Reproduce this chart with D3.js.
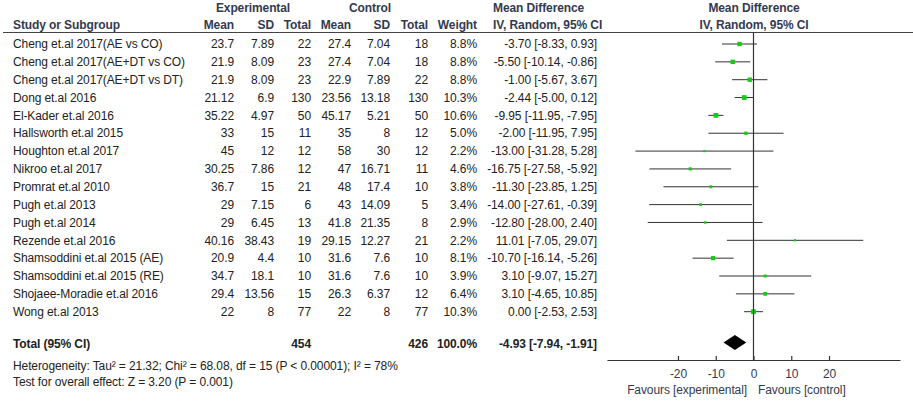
<!DOCTYPE html>
<html>
<head>
<meta charset="utf-8">
<script src="https://cdn.jsdelivr.net/npm/d3@7"></script>
<style>
  body { margin: 0; background: #fff; }
  svg { display: block; font-family: "Liberation Sans", Arial, sans-serif; font-size: 12px; letter-spacing: -0.1px; }
  .hd { font-weight: bold; fill: #333a50; }
  .tx { fill: #222; }
</style>
</head>
<body>
<svg id="chart" width="913" height="401"></svg>
<script>
const studies = ['Cheng et.al 2017(AE vs CO)', 'Cheng et.al 2017(AE+DT vs CO)', 'Cheng et.al 2017(AE+DT vs DT)',
    'Dong et.al 2016', 'El-Kader et.al 2016', 'Hallsworth et.al 2015', 'Houghton et.al 2017', 'Nikroo et.al 2017',
    'Promrat et.al 2010', 'Pugh et.al 2013', 'Pugh et.al 2014', 'Rezende et.al 2016', 'Shamsoddini et.al 2015 (AE)',
    'Shamsoddini et.al 2015 (RE)', 'Shojaee-Moradie et.al 2016', 'Wong et.al 2013'];
const expMean = [23.7, 21.9, 21.9, 21.12, 35.22, 33, 45, 30.25, 36.7, 29, 29, 40.16, 20.9, 34.7, 29.4, 22];
const expSD = [7.89, 8.09, 8.09, 6.9, 4.97, 15, 12, 7.86, 15, 7.15, 6.45, 38.43, 4.4, 18.1, 13.56, 8];
const expN = [22, 23, 23, 130, 50, 11, 12, 12, 21, 6, 13, 19, 10, 10, 15, 77];
const ctlMean = [27.4, 27.4, 22.9, 23.56, 45.17, 35, 58, 47, 48, 43, 41.8, 29.15, 31.6, 31.6, 26.3, 22];
const ctlSD = [7.04, 7.04, 7.89, 13.18, 5.21, 8, 30, 16.71, 17.4, 14.09, 21.35, 12.27, 7.6, 7.6, 6.37, 8];
const ctlN = [18, 18, 22, 130, 50, 12, 12, 11, 10, 5, 8, 21, 10, 10, 12, 77];
const weight = [8.8, 8.8, 8.8, 10.3, 10.6, 5.0, 2.2, 4.6, 3.8, 3.4, 2.9, 2.2, 8.1, 3.9, 6.4, 10.3];
const md = [-3.70, -5.50, -1.00, -2.44, -9.95, -2.00, -13.00, -16.75, -11.30, -14.00, -12.80, 11.01, -10.70, 3.10, 3.10, 0.00];
const ciLow = [-8.33, -10.14, -5.67, -5.00, -11.95, -11.95, -31.28, -27.58, -23.85, -27.61, -28.00, -7.05, -16.14, -9.07, -4.65, -2.53];
const ciHigh = [0.93, -0.86, 3.67, 0.12, -7.95, 7.95, 5.28, -5.92, 1.25, -0.39, 2.40, 29.07, -5.26, 15.27, 10.85, 2.53];
const total = {label: 'Total (95% CI)', expN: 454, ctlN: 426, weight: 100.0, md: -4.93, lo: -7.94, hi: -1.91};
const heterogeneity = 'Heterogeneity: Tau\u00b2 = 21.32; Chi\u00b2 = 68.08, df = 15 (P < 0.00001); I\u00b2 = 78%';
const overall = 'Test for overall effect: Z = 3.20 (P = 0.001)';
const axisTicks = [-20, -10, 0, 10, 20];

const svg = d3.select('#chart');
const x = d3.scaleLinear().domain([-38.8, 38.8]).range([607, 900]);
const y = d3.scaleLinear().domain([0, studies.length - 1]).range([44, 311.7]);
const size = d3.scaleSqrt().domain([0, 10.6]).range([0, 4.8]);
const fmtCI = (m, l, h) => `${m.toFixed(2)} [${l.toFixed(2)}, ${h.toFixed(2)}]`;

// columns: right edge and accessor
const cols = [
    {x: 234, v: i => expMean[i]}, {x: 274, v: i => expSD[i]}, {x: 311, v: i => expN[i]},
    {x: 351, v: i => ctlMean[i]}, {x: 390, v: i => ctlSD[i]}, {x: 428, v: i => ctlN[i]},
    {x: 477, v: i => weight[i].toFixed(1) + '%'},
    {x: 597, v: i => fmtCI(md[i], ciLow[i], ciHigh[i])}
];

function txt(xp, yp, s, cls, anchor) {
    return svg.append('text').attr('x', xp).attr('y', yp).attr('dy', '0.35em')
        .attr('class', cls).attr('text-anchor', anchor || 'start').text(s);
}

// header
txt(253, 8, 'Experimental', 'hd', 'middle');
txt(370, 8, 'Control', 'hd', 'middle');
txt(493, 8, 'Mean Difference', 'hd');
txt(754, 8, 'Mean Difference', 'hd', 'middle');
txt(13, 25, 'Study or Subgroup', 'hd');
[['Mean', 234], ['SD', 274], ['Total', 311], ['Mean', 351], ['SD', 390], ['Total', 428], ['Weight', 477]]
    .forEach(h => txt(h[1], 25, h[0], 'hd', 'end'));
txt(493, 25, 'IV, Random, 95% CI', 'hd');
txt(754, 25, 'IV, Random, 95% CI', 'hd', 'middle');

svg.append('line').attr('x1', 3).attr('x2', 913).attr('y1', 32.5).attr('y2', 32.5)
    .attr('stroke', '#444').attr('stroke-width', 1);

// study rows
const rows = svg.selectAll('g.row').data(studies).enter().append('g').attr('class', 'row');
rows.append('text').attr('x', 13).attr('y', (d, i) => y(i)).attr('dy', '0.35em').attr('class', 'tx').text(d => d);
cols.forEach(function(c) {
    rows.append('text').attr('x', c.x).attr('y', (d, i) => y(i)).attr('dy', '0.35em')
        .attr('class', 'tx').attr('text-anchor', 'end').text((d, i) => c.v(i));
});

// zero line
svg.append('line').attr('x1', x(0)).attr('x2', x(0)).attr('y1', 32).attr('y2', 360)
    .attr('stroke', '#333').attr('stroke-width', 1.2);

// CI whiskers and squares
rows.append('line')
    .attr('x1', (d, i) => x(ciLow[i])).attr('x2', (d, i) => x(ciHigh[i]))
    .attr('y1', (d, i) => y(i)).attr('y2', (d, i) => y(i))
    .attr('stroke', '#333').attr('stroke-width', 1);
rows.append('rect')
    .attr('x', (d, i) => x(md[i]) - size(weight[i]) / 2)
    .attr('y', (d, i) => y(i) - size(weight[i]) / 2)
    .attr('width', (d, i) => size(weight[i]))
    .attr('height', (d, i) => size(weight[i]))
    .attr('fill', '#11cc11');

// total row
const ty = 344;
txt(13, ty, total.label, 'hd');
txt(311, ty, total.expN, 'hd', 'end');
txt(428, ty, total.ctlN, 'hd', 'end');
txt(477, ty, total.weight.toFixed(1) + '%', 'hd', 'end');
txt(597, ty, fmtCI(total.md, total.lo, total.hi), 'hd', 'end');
svg.selectAll('text.hd').filter(function() { return +this.getAttribute('y') === ty; }).style('fill', '#222');

svg.append('path')
    .attr('d', `M${x(total.lo)},342.5 L${x(total.md)},335 L${x(total.hi)},342.5 L${x(total.md)},350 Z`)
    .attr('fill', '#000');

txt(13, 366, heterogeneity, 'tx');
txt(13, 382, overall, 'tx');

// axis
const axis = d3.axisBottom(x).tickValues(axisTicks).tickFormat(d => String(d))
    .tickSize(-4).tickPadding(9).tickSizeOuter(0);
const g = svg.append('g').attr('transform', 'translate(0,360)').call(axis);
g.select('.domain').attr('stroke', '#333').attr('stroke-width', 1.2);
g.selectAll('.tick line').attr('stroke', '#333').attr('stroke-width', 1.2);
g.selectAll('.tick text').attr('fill', '#333a50').style('font-size', '12px')
    .style('font-family', '"Liberation Sans", Arial, sans-serif');

txt(747, 390, 'Favours [experimental]', 'tx', 'end').style('fill', '#333a50');
txt(758, 390, 'Favours [control]', 'tx').style('fill', '#333a50');
</script>
</body>
</html>
